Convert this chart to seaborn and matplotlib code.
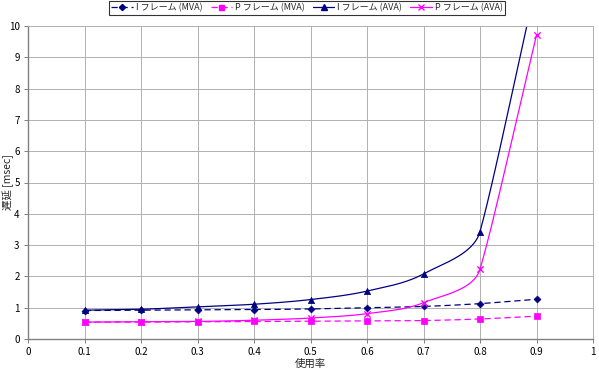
import numpy as np
import pandas as pd
import matplotlib
matplotlib.use("Agg")
import matplotlib.pyplot as plt
import seaborn as sns
from matplotlib.lines import Line2D

# ---- data ----
usage = [0.1, 0.2, 0.3, 0.4, 0.5, 0.6, 0.7, 0.8, 0.9]
i_mva = [0.91, 0.92, 0.93, 0.94, 0.96, 1.00, 1.04, 1.13, 1.27]
p_mva = [0.54, 0.54, 0.55, 0.56, 0.57, 0.58, 0.59, 0.64, 0.73]
i_ava = [0.92, 0.95, 1.03, 1.11, 1.26, 1.53, 2.08, 3.43, 11.4]
p_ava = [0.54, 0.55, 0.56, 0.60, 0.67, 0.81, 1.16, 2.23, 9.71]
series_names = ["I フレーム (MVA)", "P フレーム (MVA)", "I フレーム (AVA)", "P フレーム (AVA)"]
x_ticks = [0, 0.1, 0.2, 0.3, 0.4, 0.5, 0.6, 0.7, 0.8, 0.9, 1]
y_ticks = [0, 1, 2, 3, 4, 5, 6, 7, 8, 9, 10]
x_label = "使用率"
y_label = "遅延 [msec]"

sns.set_theme(style="white")
plt.rcParams['font.family'] = ['Noto Sans CJK JP', 'DejaVu Sans']

# pixel scale of the plot area (used only to shape the smoothing)
SX, SY = 565.0, 31.3


def _tangent(P, i):
    m = len(P)
    if i == 0:
        v = P[1] - P[0]
        return v / np.linalg.norm(v), np.linalg.norm(v)
    if i == m - 1:
        v = P[-1] - P[-2]
        return v / np.linalg.norm(v), np.linalg.norm(v)
    a = P[i] - P[i - 1]
    b = P[i + 1] - P[i]
    da, db = np.linalg.norm(a), np.linalg.norm(b)
    v = (a / da) * da ** 2 + (b / db) * db ** 2
    return v / np.linalg.norm(v), np.linalg.norm(P[i + 1] - P[i - 1])


def smooth(xs, ys, n=40, tension=1 / 6.0, kmax=1 / 3.0):
    """Excel-like smoothed line: Bezier segments with clamped handles."""
    P = np.column_stack([np.asarray(xs, float) * SX, np.asarray(ys, float) * SY])
    out = []
    m = len(P)
    for i in range(m - 1):
        p1, p2 = P[i], P[i + 1]
        L = np.linalg.norm(p2 - p1)
        d1, s1 = _tangent(P, i)
        d2, s2 = _tangent(P, i + 1)
        if i == 0:
            s1 = 2 * L
        if i + 1 == m - 1:
            s2 = 2 * L
        h1 = min(s1 * tension, L * kmax)
        h2 = min(s2 * tension, L * kmax)
        c1 = p1 + d1 * h1
        c2 = p2 - d2 * h2
        t = np.linspace(0, 1, n)[:, None]
        seg = ((1 - t) ** 3) * p1 + 3 * ((1 - t) ** 2) * t * c1 + 3 * (1 - t) * t ** 2 * c2 + t ** 3 * p2
        out.append(seg if i == 0 else seg[1:])
    s = np.vstack(out)
    return s[:, 0] / SX, s[:, 1] / SY


fig = plt.figure(figsize=(5.99, 3.78), dpi=100)
ax = fig.add_axes([28 / 599, 1 - 339 / 378, 565 / 599, 313 / 378])

navy = "#000080"
mag = "#FF00FF"
styles = [
    (i_mva, navy, (0, (5, 3)), "D", 3.5),
    (p_mva, mag, (0, (5, 3)), "s", 4),
    (i_ava, navy, "-", "^", 4.5),
    (p_ava, mag, "-", "x", 4.5),
]

handles = []
for name, (vals, col, ls, mk, ms) in zip(series_names, styles):
    sx, sy = smooth(usage, vals)
    df_line = pd.DataFrame({"x": sx, "y": sy})
    sns.lineplot(data=df_line, x="x", y="y", ax=ax, color=col, linewidth=0.9,
                 sort=False, estimator=None, legend=False)
    ax.lines[-1].set_linestyle(ls)
    df_pts = pd.DataFrame({"x": usage, "y": vals})
    df_pts = df_pts[df_pts["y"] <= 10.05]
    if mk == "x":
        sns.scatterplot(data=df_pts, x="x", y="y", ax=ax, marker="x", color=col,
                        s=ms ** 2, linewidth=1.0, legend=False, zorder=5)
    else:
        sns.scatterplot(data=df_pts, x="x", y="y", ax=ax, marker=mk, color=col,
                        edgecolor=col, s=ms ** 2, linewidth=0.5, legend=False, zorder=5)
    handles.append(Line2D([0], [0], color=col, linestyle=ls, linewidth=0.9,
                          marker=mk, markersize=ms * 0.9, markerfacecolor=col,
                          markeredgecolor=col))

ax.set_xlim(0, 1)
ax.set_ylim(0, 10)
ax.set_xticks(x_ticks)
ax.set_xticklabels([("%g" % v) for v in x_ticks])
ax.set_yticks(y_ticks)
ax.set_yticklabels([str(v) for v in y_ticks])
ax.grid(True, color="#b0b0b0", linewidth=0.7)
ax.set_axisbelow(True)
for side in ["top", "right"]:
    ax.spines[side].set_color("#b0b0b0")
    ax.spines[side].set_linewidth(0.7)
for side in ["left", "bottom"]:
    ax.spines[side].set_color("#808080")
    ax.spines[side].set_linewidth(1.0)
ax.tick_params(axis="both", labelsize=7, colors="#000000", length=3, width=0.7,
               direction="out", pad=3, bottom=True, left=True)
ax.tick_params(axis="both", color="#808080")
ax.set_xlabel(x_label, fontsize=7.5, labelpad=1)
ax.set_ylabel("")
fig.text(8 / 599, 1 - 182 / 378, y_label, rotation=90, ha="center", va="center",
         fontsize=7.5)

leg = fig.legend(handles=handles, labels=series_names, loc="upper center",
                 bbox_to_anchor=(307 / 599, 1 - 1 / 378), ncol=4, fontsize=6.5,
                 frameon=True, fancybox=False, handlelength=2.4, handletextpad=0.3,
                 columnspacing=0.9, borderpad=0.25, borderaxespad=0)
leg.get_frame().set_edgecolor("black")
leg.get_frame().set_linewidth(0.8)

fig.savefig("out.png", dpi=100)
